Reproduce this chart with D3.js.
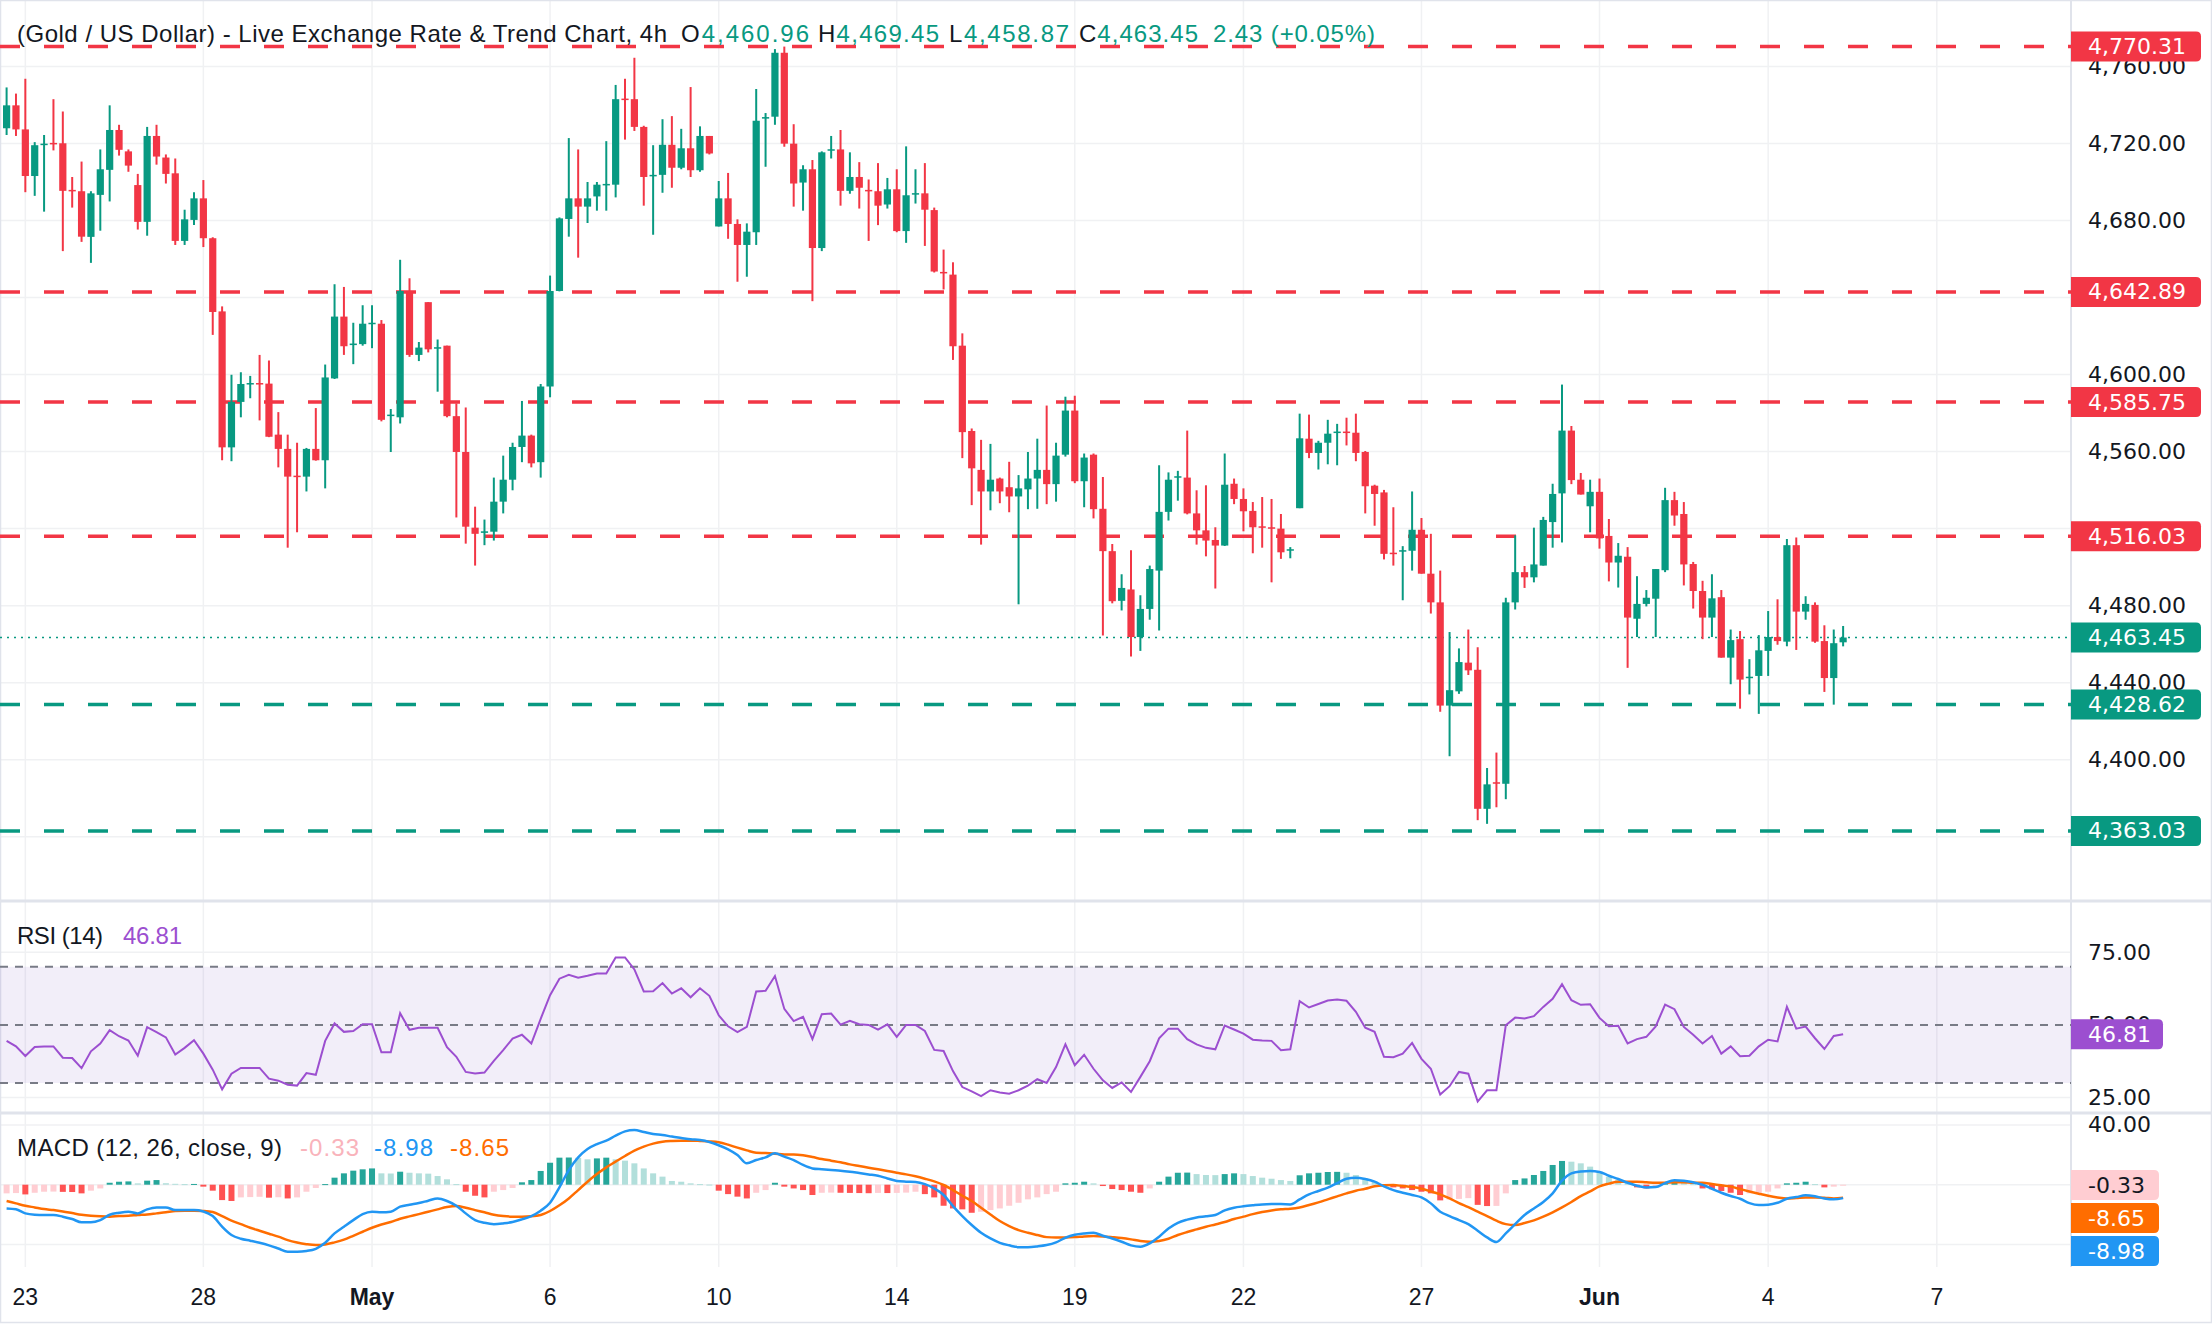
<!DOCTYPE html>
<html>
<head>
<meta charset="utf-8">
<script src="https://cdn.jsdelivr.net/npm/d3@7"></script>
<style>
  body { margin: 0; background: #fff; }
  svg { display: block; }
</style>
</head>
<body>
<div id="chart"></div>
<script>
// 4h candles, index 0 = last two bars of 22 Apr
var open = [4727.9,4739.8,4727.3,4703.1,4719.3,4720.3,4720.1,4695.9,4695.2,4671.5,4693.3,4706.3,4727.0,4715.9,4698.4,4679.3,4723.9,4712.7,4704.5,4669.4,
 4680.3,4691.5,4670.8,4632.8,4562.2,4585.8,4595.0,4595.6,4595.3,4568.8,4561.4,4547.5,4547.0,4561.4,4555.5,4598.0,4630.1,4615.3,4615.8,4626.2,
 4626.4,4578.5,4577.8,4643.4,4610.2,4637.6,4613.5,4615.0,4578.4,4559.8,4520.5,4517.8,4518.4,4534.0,4545.4,4562.4,4568.3,4554.5,4593.8,4643.4,
 4680.8,4691.5,4687.2,4692.5,4698.4,4698.6,4743.3,4743.0,4728.6,4703.0,4703.7,4719.3,4707.4,4717.5,4706.1,4723.9,4676.9,4691.5,4678.2,4667.3,
 4673.9,4732.9,4733.9,4767.1,4719.9,4699.7,4706.6,4665.7,4716.3,4716.9,4695.4,4702.6,4695.9,4695.2,4688.3,4696.2,4674.5,4693.6,4694.1,4685.4,
 4653.3,4651.9,4615.0,4570.7,4550.5,4539.3,4546.0,4541.5,4536.7,4540.4,4546.0,4550.5,4543.1,4558.4,4581.3,4544.6,4558.4,4530.3,4508.3,4482.5,
 4488.4,4463.7,4478.3,4498.2,4528.7,4546.5,4546.5,4527.9,4519.1,4514.1,4511.2,4543.3,4535.4,4529.2,4521.2,4520.7,4520.0,4508.8,4530.6,4566.7,
 4559.3,4564.6,4569.8,4570.4,4569.8,4559.8,4542.3,4538.8,4507.5,4508.3,4508.5,4519.4,4496.6,4481.7,4428.1,4435.5,4450.4,4446.7,4374.5,4388.3,
 4387.5,4481.7,4497.4,4494.7,4500.8,4523.4,4538.3,4570.9,4545.4,4531.6,4539.1,4516.2,4502.4,4505.4,4473.2,4480.9,4483.6,4498.4,4534.8,4527.6,
 4501.6,4487.6,4473.8,4484.4,4453.0,4462.6,4442.4,4443.5,4456.5,4463.7,4461.3,4511.4,4476.9,4480.4,4461.6,4442.4,4460.96];
var high = [4749.1,4745.9,4753.6,4720.7,4724.4,4743.0,4736.6,4702.6,4710.6,4695.2,4716.9,4739.8,4729.7,4716.9,4704.2,4728.6,4729.7,4714.3,4712.2,4685.6,
 4694.7,4701.0,4671.3,4635.4,4599.9,4601.2,4599.3,4610.2,4607.3,4580.5,4568.8,4564.6,4561.9,4582.6,4605.2,4646.9,4645.5,4626.9,4636.0,4636.0,
 4628.3,4582.1,4659.6,4650.0,4616.9,4637.6,4618.2,4615.0,4585.0,4582.9,4531.4,4524.7,4546.5,4557.9,4564.6,4586.3,4568.8,4595.1,4651.4,4681.6,
 4722.8,4716.9,4700.0,4700.0,4721.2,4750.4,4753.6,4764.5,4729.2,4719.1,4732.6,4734.2,4727.6,4749.3,4728.9,4723.9,4700.5,4704.7,4680.6,4678.5,
 4748.3,4735.8,4769.0,4770.31,4730.0,4708.7,4711.4,4715.9,4723.9,4727.0,4715.4,4710.3,4701.3,4709.8,4702.1,4706.6,4718.5,4706.6,4709.8,4686.7,
 4664.9,4658.3,4621.4,4572.0,4566.1,4564.0,4546.5,4554.7,4547.8,4559.8,4566.7,4583.9,4564.6,4588.5,4589.0,4559.0,4559.0,4546.8,4512.0,4496.3,
 4508.8,4485.4,4500.8,4552.9,4549.2,4550.0,4570.9,4539.9,4542.5,4520.7,4559.0,4546.0,4540.9,4533.8,4536.4,4535.4,4527.6,4510.4,4579.7,4579.2,
 4565.6,4576.5,4574.4,4577.6,4579.7,4560.3,4542.8,4540.1,4531.1,4510.9,4539.3,4525.5,4517.3,4498.2,4466.3,4457.8,4467.6,4458.4,4395.7,4403.7,
 4484.1,4516.5,4500.6,4520.5,4526.1,4543.3,4594.8,4573.3,4548.9,4545.4,4546.0,4525.0,4512.5,4510.4,4495.3,4488.1,4499.0,4541.2,4539.1,4533.8,
 4502.7,4492.9,4496.3,4488.1,4467.6,4466.8,4452.2,4464.7,4477.2,4483.3,4514.6,4515.4,4484.9,4481.7,4469.8,4467.6,4469.45];
var low = [4724.4,4723.9,4694.7,4692.8,4684.6,4716.4,4664.1,4686.7,4668.9,4658.0,4674.7,4689.9,4713.7,4705.3,4675.3,4672.1,4709.0,4699.2,4667.3,4667.3,
 4677.6,4666.2,4620.6,4555.5,4555.0,4577.8,4587.7,4576.2,4567.5,4551.8,4510.1,4518.1,4539.3,4555.3,4540.9,4597.7,4610.2,4605.4,4615.0,4613.7,
 4575.7,4559.8,4574.6,4609.2,4607.0,4611.5,4591.1,4577.8,4525.8,4512.2,4500.8,4511.4,4513.8,4527.9,4539.9,4554.5,4551.8,4546.5,4588.2,4643.2,
 4671.6,4660.7,4678.7,4685.1,4685.1,4692.0,4722.0,4726.5,4687.7,4672.6,4694.4,4697.0,4706.6,4702.6,4705.3,4714.3,4676.9,4670.5,4648.2,4650.8,
 4667.3,4707.9,4729.7,4718.3,4687.2,4685.1,4638.1,4664.1,4712.2,4687.7,4693.9,4686.2,4669.4,4677.6,4686.2,4673.9,4668.4,4688.8,4666.8,4653.0,
 4644.2,4607.6,4556.6,4532.2,4511.7,4529.5,4533.2,4528.5,4480.7,4530.1,4530.3,4532.7,4534.0,4557.4,4543.6,4531.1,4525.3,4464.5,4481.2,4477.5,
 4453.6,4456.5,4472.7,4467.1,4524.2,4534.5,4527.4,4511.7,4505.6,4488.9,4511.0,4532.7,4518.6,4507.2,4510.1,4492.1,4504.3,4504.6,4530.6,4556.6,
 4550.7,4553.4,4552.9,4563.2,4555.0,4527.9,4521.5,4504.0,4500.8,4482.8,4498.2,4496.6,4475.9,4424.9,4401.8,4434.2,4444.0,4368.6,4366.7,4375.3,
 4379.5,4478.0,4489.2,4492.1,4500.8,4510.1,4512.8,4543.1,4537.7,4518.1,4509.6,4492.6,4489.4,4447.7,4463.7,4479.6,4463.7,4497.4,4521.5,4490.5,
 4478.5,4462.6,4463.7,4453.0,4439.2,4426.5,4433.9,4423.8,4443.5,4459.7,4458.9,4457.0,4472.7,4460.7,4435.2,4428.6,4458.87];
var close = [4739.8,4727.3,4703.1,4719.1,4719.9,4719.8,4695.4,4695.3,4671.6,4694.1,4706.6,4727.0,4716.7,4708.5,4679.3,4723.9,4713.2,4704.2,4669.4,4680.6,
 4691.5,4670.8,4632.5,4562.2,4585.8,4595.1,4595.6,4595.2,4567.7,4561.4,4547.0,4547.0,4561.4,4555.5,4598.5,4630.1,4614.7,4616.1,4626.4,4626.9,
 4576.5,4579.2,4643.4,4610.2,4614.0,4613.1,4614.2,4578.4,4559.8,4521.0,4517.3,4518.6,4534.0,4545.4,4562.4,4568.3,4553.9,4593.8,4643.4,4681.1,
 4691.5,4687.2,4691.5,4698.6,4699.0,4743.0,4742.7,4728.6,4702.6,4703.7,4719.3,4707.4,4717.5,4706.1,4723.9,4714.8,4691.5,4678.2,4667.3,4674.2,
 4731.8,4733.7,4767.1,4719.9,4699.2,4706.6,4665.7,4715.4,4717.0,4695.4,4702.6,4697.0,4695.2,4687.7,4696.2,4674.5,4693.1,4694.2,4685.6,4653.5,
 4652.7,4614.7,4570.1,4551.3,4539.3,4545.4,4539.3,4536.7,4540.9,4546.0,4550.5,4543.1,4557.9,4581.3,4544.6,4556.9,4530.1,4508.3,4482.3,4489.2,
 4463.7,4478.3,4499.0,4528.7,4545.4,4547.2,4527.9,4519.1,4513.8,4511.2,4542.8,4535.4,4529.0,4520.7,4520.5,4520.0,4507.7,4509.3,4566.9,4559.3,
 4564.6,4569.3,4570.4,4569.8,4559.3,4542.0,4538.0,4506.9,4506.8,4508.8,4519.4,4496.6,4481.7,4428.1,4436.1,4450.7,4446.4,4374.5,4387.2,4387.7,
 4481.7,4497.4,4494.7,4501.4,4524.5,4538.0,4570.9,4545.2,4537.7,4539.1,4514.9,4502.4,4505.9,4473.8,4480.9,4484.1,4499.0,4534.8,4526.8,4501.4,
 4487.6,4473.8,4483.8,4453.0,4462.1,4441.6,4443.1,4456.8,4463.7,4461.6,4511.4,4476.9,4480.9,4461.3,4442.4,4460.5,4463.45];

var rsi = [44.5,42.6,39.3,42.4,42.6,42.6,38.7,38.6,35.1,40.9,43.6,48.2,46.1,44.6,39.4,49.2,47.5,45.7,39.8,42.1,
 44.7,40.1,34.6,27.8,33.2,35.2,35.2,35.2,31.5,30.8,29.4,29.1,33.4,32.8,44.5,50.5,47.6,47.9,50.2,50.2,
 40.6,40.6,54.0,48.3,49.0,49.0,49.0,42.3,39.0,33.8,33.3,33.6,37.6,41.3,45.3,46.6,43.6,52.1,60.2,65.9,
 67.2,66.2,66.9,67.7,67.7,73.2,73.2,69.1,61.5,61.6,64.4,60.8,62.6,59.5,62.6,60.0,53.3,49.5,47.5,49.3,
 61.5,61.7,66.8,55.5,51.3,52.8,45.1,53.7,53.9,50.1,51.4,50.2,50.0,48.4,50.2,45.9,50.0,50.0,47.9,41.4,
 41.0,34.1,28.6,27.1,25.5,27.5,26.7,26.3,27.5,29.1,31.3,30.0,35.5,43.3,36.1,39.7,34.9,30.9,28.3,30.2,
 26.9,32.1,37.5,45.4,48.7,48.7,45.1,43.3,42.1,41.6,49.8,48.4,47.0,44.9,44.6,44.5,41.3,41.6,58.2,56.0,
 57.2,58.4,58.7,58.3,54.5,49.0,47.6,39.0,38.9,40.1,43.8,38.3,34.9,26.0,28.9,33.8,33.2,23.6,27.5,27.5,
 49.9,52.5,52.2,53.0,56.2,59.0,64.0,58.5,56.9,57.1,52.4,49.5,49.7,43.6,45.1,45.9,49.5,57.0,55.4,49.3,
 46.6,43.6,46.2,40.1,42.6,39.2,39.4,42.6,44.9,44.3,56.2,48.7,49.4,45.4,41.7,46.2,46.81];

var macd = [-15.9,-16.5,-19.2,-20.1,-20.3,-20.3,-21.4,-23.0,-25.2,-25.2,-23.7,-20.1,-18.8,-18.1,-19.2,-16.5,-15.2,-15.2,-17.0,-17.0,
 -17.0,-17.9,-21.0,-28.1,-33.7,-36.2,-37.5,-38.9,-40.6,-42.7,-44.9,-44.9,-44.4,-42.9,-38.9,-32.6,-28.1,-23.7,-19.7,-18.1,
 -18.5,-18.1,-14.7,-13.4,-12.3,-10.7,-9.2,-10.9,-14.1,-19.2,-23.7,-25.5,-26.4,-25.9,-25.0,-23.2,-21.0,-17.4,-12.1,-1.8,
 9.8,18.3,23.9,27.2,29.5,32.8,35.7,36.6,35.3,33.9,33.3,32.2,31.3,30.4,29.9,28.6,26.4,23.7,19.9,14.3,
 16.5,18.3,21.0,18.8,16.5,13.2,10.9,10.3,9.8,9.4,8.7,7.8,6.9,6.0,4.2,2.5,2.0,1.8,0.4,-2.5,
 -6.9,-14.3,-21.0,-27.0,-32.2,-36.0,-38.9,-40.6,-41.8,-41.8,-41.3,-40.4,-38.6,-35.5,-33.5,-32.6,-32.2,-34.2,-36.0,-38.2,
 -40.6,-41.5,-39.3,-34.8,-29.3,-25.5,-23.4,-21.9,-21.2,-20.3,-17.2,-15.4,-14.5,-13.8,-13.2,-13.0,-13.0,-13.2,-9.8,-6.5,
 -4.2,-2.0,1.1,4.0,4.7,3.8,2.0,-1.1,-3.6,-5.4,-6.9,-8.5,-12.5,-18.1,-21.0,-23.7,-26.4,-30.8,-35.3,-38.4,
 -32.6,-26.4,-20.3,-15.9,-11.6,-5.8,2.7,7.6,8.9,9.2,8.5,6.0,3.8,1.3,-0.7,-1.8,-1.6,1.1,2.9,2.7,
 1.6,0.0,-2.7,-5.4,-7.6,-9.4,-12.3,-13.6,-13.4,-12.1,-9.4,-8.3,-7.1,-7.8,-9.2,-9.8,-8.98];
var signal = [-10.9,-12.5,-14.1,-15.2,-16.3,-17.0,-17.9,-19.0,-20.1,-20.8,-21.2,-21.4,-21.0,-20.8,-20.3,-19.9,-19.2,-18.5,-17.6,-17.4,
 -17.4,-17.6,-18.3,-21.0,-24.1,-26.4,-28.8,-30.8,-32.8,-34.8,-37.1,-38.7,-39.8,-40.4,-40.0,-38.6,-36.8,-34.2,-31.5,-28.8,
 -26.6,-25.0,-22.8,-21.2,-19.7,-18.1,-16.5,-15.0,-14.3,-15.4,-17.0,-18.5,-20.1,-21.0,-21.4,-21.4,-21.2,-20.3,-17.6,-13.8,
 -9.2,-3.6,2.0,7.1,11.6,15.4,19.2,22.8,25.5,27.5,28.8,29.3,29.5,29.5,29.3,29.0,28.4,26.8,24.8,23.0,
 21.4,21.2,20.8,20.3,20.3,19.7,18.5,17.2,16.1,15.0,13.6,12.5,11.4,10.3,9.2,8.0,6.9,5.6,4.0,2.2,
 -0.2,-3.6,-7.4,-10.9,-15.4,-19.9,-24.3,-27.7,-30.4,-32.2,-33.7,-35.1,-35.3,-35.3,-35.1,-34.6,-34.4,-34.6,-35.1,-35.7,
 -36.6,-37.7,-38.2,-37.7,-36.2,-33.7,-31.7,-29.9,-28.1,-26.6,-25.0,-23.0,-21.4,-19.7,-18.3,-17.2,-16.5,-16.1,-15.2,-13.6,
 -11.8,-9.8,-7.8,-5.8,-4.0,-2.7,-1.1,-0.4,-0.2,-0.9,-1.6,-2.7,-4.5,-6.5,-9.2,-12.3,-15.0,-18.1,-21.0,-24.1,
 -26.4,-27.0,-25.7,-23.9,-21.4,-18.5,-15.2,-11.6,-7.6,-4.5,-1.1,0.7,2.0,2.0,2.0,1.6,1.3,1.3,1.6,1.6,
 1.3,1.3,0.4,-0.4,-1.3,-2.9,-4.5,-6.0,-7.4,-8.5,-9.2,-8.9,-8.5,-8.5,-8.7,-9.2,-8.65];
var hist = [-5.8,-5.6,-6.5,-5.4,-4.7,-4.6,-4.8,-4.9,-5.8,-4.0,-2.5,1.3,2.0,2.2,0.9,2.7,3.1,1.0,0.6,0.4,
 0.5,-1.3,-4.0,-10.3,-10.9,-8.5,-8.3,-8.1,-8.7,-8.4,-9.2,-8.5,-4.7,-2.2,0.4,4.7,7.6,9.4,10.3,10.9,
 7.6,7.5,8.7,8.0,7.6,7.4,5.8,3.6,0.4,-4.7,-7.4,-8.5,-4.7,-3.6,-2.2,1.6,3.1,9.2,14.7,18.1,
 18.2,18.0,17.0,17.6,18.1,17.0,16.1,14.3,10.9,7.6,5.4,2.5,2.0,0.9,0.4,0.1,-4.0,-6.3,-8.0,-9.2,
 -5.4,-3.6,1.3,-1.3,-2.5,-3.6,-6.9,-5.4,-5.3,-5.4,-5.5,-5.6,-5.7,-5.5,-5.6,-5.5,-5.3,-4.7,-6.3,-8.5,
 -14.1,-15.9,-16.5,-18.8,-18.1,-17.0,-15.9,-14.1,-12.1,-9.8,-8.5,-6.3,-4.7,0.9,1.3,2.0,0.9,-0.9,-2.9,-3.6,
 -4.7,-5.4,-2.5,2.0,5.4,8.0,8.1,7.1,6.5,6.4,7.1,7.6,7.1,5.8,4.7,4.0,3.1,2.5,6.3,7.6,
 8.0,8.5,8.6,8.0,6.5,4.2,2.0,-0.9,-1.8,-2.5,-3.6,-4.7,-5.8,-10.5,-10.0,-9.5,-9.0,-13.5,-14.3,-14.2,
 -5.8,3.1,4.2,6.5,9.2,13.2,15.9,15.4,14.3,12.1,8.7,5.4,3.1,1.3,-1.8,-2.5,-0.9,1.3,2.0,1.3,
 0.4,-2.5,-3.1,-4.2,-5.4,-6.9,-5.8,-5.4,-4.7,-2.5,0.9,1.3,2.0,0.4,-1.8,-1.3,-0.33];

// horizontal levels
var resistances = [4770.31, 4642.89, 4585.75, 4516.03];
var supports = [4428.62, 4363.03];
var lastClose = 4463.45;

// time axis: label and bar index of first bar of that day
var dayLabels = ["23", "28", "May", "6", "10", "14", "19", "22", "27", "Jun", "4", "7"];
var dayIndex = [2, 21, 39, 58, 76, 95, 114, 132, 151, 170, 188, 206];

var priceTicks = d3.range(4360, 4761, 40);
var rsiTicks = [75, 50, 25];
var rsiLevels = [70, 50, 30];
var macdTicks = [40, -40];

var W = 2212, H = 1344;
var AX = 2071;           // price axis left edge
var LX = 2088;           // axis text x
var UP = "#089981", DOWN = "#f23645";
var GRID = "#f0f1f3", SEP = "#e0e3eb", TXT = "#131722";
var AXFONT = "'DejaVu Sans', sans-serif";
var UIFONT = "'Liberation Sans', Arial, sans-serif";
var fmt = d3.format(",.2f");
var n = close.length;

var x = d3.scaleLinear().domain([0, n - 1]).range([6.6, 6.6 + 9.37 * (n - 1)]);
var yP = d3.scaleLinear().domain([4794.5, 4327.15]).range([0, 900]);
var yR = d3.scaleLinear().domain([92.3, 19.67]).range([902, 1113]);
var yM = d3.scaleLinear().domain([48.0, -55.1]).range([1113, 1267]);

var svg = d3.select("#chart").append("svg").attr("width", W).attr("height", H);
svg.append("rect").attr("width", W).attr("height", H).attr("fill", "#fff");

// grid
var grid = svg.append("g").attr("stroke", GRID).attr("stroke-width", 1.5);
dayIndex.forEach(function(d){
  grid.append("line").attr("x1", x(d)).attr("x2", x(d)).attr("y1", 0).attr("y2", 1267);
});
priceTicks.forEach(function(p){
  grid.append("line").attr("x1", 0).attr("x2", AX).attr("y1", yP(p)).attr("y2", yP(p));
});
[75, 25].forEach(function(r){
  grid.append("line").attr("x1", 0).attr("x2", AX).attr("y1", yR(r)).attr("y2", yR(r));
});
[40, 0, -40].forEach(function(v){
  grid.append("line").attr("x1", 0).attr("x2", AX).attr("y1", yM(v)).attr("y2", yM(v));
});

// pane separators and borders
svg.append("line").attr("x1", 0).attr("x2", W).attr("y1", 901).attr("y2", 901).attr("stroke", SEP).attr("stroke-width", 3);
svg.append("line").attr("x1", 0).attr("x2", W).attr("y1", 1113).attr("y2", 1113).attr("stroke", SEP).attr("stroke-width", 3);
svg.append("line").attr("x1", AX).attr("x2", AX).attr("y1", 0).attr("y2", 1267).attr("stroke", SEP).attr("stroke-width", 2);
svg.append("rect").attr("x", 0.5).attr("y", 0.5).attr("width", W - 1).attr("height", 1322)
  .attr("fill", "none").attr("stroke", SEP).attr("stroke-width", 1.5);

// level lines
var lv = svg.append("g").attr("fill", "none");
resistances.forEach(function(p){
  lv.append("line").attr("x1", 0).attr("x2", AX).attr("y1", yP(p)).attr("y2", yP(p))
    .attr("stroke", DOWN).attr("stroke-width", 3.5).attr("stroke-dasharray", "20 24");
});
supports.forEach(function(p){
  lv.append("line").attr("x1", 0).attr("x2", AX).attr("y1", yP(p)).attr("y2", yP(p))
    .attr("stroke", UP).attr("stroke-width", 3.5).attr("stroke-dasharray", "20 24");
});
lv.append("line").attr("x1", 0).attr("x2", AX).attr("y1", yP(lastClose)).attr("y2", yP(lastClose))
  .attr("stroke", UP).attr("stroke-width", 1.5).attr("stroke-dasharray", "2 5");

// candles
var idx = d3.range(n);
var cg = svg.append("g");
cg.selectAll(".wick").data(idx).enter().append("line")
  .attr("x1", function(i){ return x(i); }).attr("x2", function(i){ return x(i); })
  .attr("y1", function(i){ return yP(high[i]); }).attr("y2", function(i){ return yP(low[i]); })
  .attr("stroke", function(i){ return close[i] >= open[i] ? UP : DOWN; })
  .attr("stroke-width", 2);
cg.selectAll(".body").data(idx).enter().append("rect")
  .attr("x", function(i){ return x(i) - 3.6; })
  .attr("width", 7.2)
  .attr("y", function(i){ return yP(Math.max(open[i], close[i])); })
  .attr("height", function(i){ return Math.max(1.5, Math.abs(yP(open[i]) - yP(close[i]))); })
  .attr("fill", function(i){ return close[i] >= open[i] ? UP : DOWN; });

// RSI pane
svg.append("rect").attr("x", 0).attr("width", AX).attr("y", yR(70)).attr("height", yR(30) - yR(70))
  .attr("fill", "#7e57c2").attr("fill-opacity", 0.1);
rsiLevels.forEach(function(r){
  svg.append("line").attr("x1", 0).attr("x2", AX).attr("y1", yR(r)).attr("y2", yR(r))
    .attr("stroke", "#787b86").attr("stroke-width", 2).attr("stroke-dasharray", "8 7");
});
svg.append("path").datum(idx)
  .attr("d", d3.line().x(function(i){ return x(i); }).y(function(i){ return yR(rsi[i]); }))
  .attr("fill", "none").attr("stroke", "#9c4fd0").attr("stroke-width", 2);

// MACD pane
svg.selectAll(".hb").data(idx).enter().append("rect")
  .attr("x", function(i){ return x(i) - 3; })
  .attr("width", 6)
  .attr("y", function(i){ return Math.min(yM(0), yM(hist[i])); })
  .attr("height", function(i){ return Math.max(1, Math.abs(yM(hist[i]) - yM(0))); })
  .attr("fill", function(i){
    var prev = i > 0 ? hist[i - 1] : hist[i];
    if (hist[i] >= 0) return hist[i] >= prev ? "#26a69a" : "#b2dfdb";
    return hist[i] < prev ? "#ff5252" : "#ffcdd2";
  });
var ml = d3.line().curve(d3.curveMonotoneX).x(function(i){ return x(i); });
svg.append("path").datum(idx).attr("d", ml.y(function(i){ return yM(signal[i]); }))
  .attr("fill", "none").attr("stroke", "#ff6d00").attr("stroke-width", 2.5);
svg.append("path").datum(idx).attr("d", ml.y(function(i){ return yM(macd[i]); }))
  .attr("fill", "none").attr("stroke", "#2196f3").attr("stroke-width", 2.5);

// axis labels (right); labels fully covered by a level tag are not drawn
var tagPrices = resistances.concat(supports);
var axg = svg.append("g").attr("font-family", AXFONT).attr("font-size", 22).attr("fill", TXT)
  .attr("dominant-baseline", "central");
priceTicks.filter(function(p){
  return tagPrices.every(function(t){ return Math.abs(yP(t) - yP(p)) > 9; });
}).forEach(function(p){ axg.append("text").attr("x", LX).attr("y", yP(p)).text(fmt(p)); });
rsiTicks.forEach(function(r){ axg.append("text").attr("x", LX).attr("y", yR(r)).text(r.toFixed(2)); });
macdTicks.forEach(function(v){ axg.append("text").attr("x", LX).attr("y", yM(v)).text(v.toFixed(2)); });

// value tags
function tag(cy, label, bg, fg, w) {
  var h = 30, r = 5, x0 = AX, y0 = cy - h / 2;
  svg.append("path")
    .attr("d", "M" + x0 + "," + y0 + "H" + (x0 + w - r) + "Q" + (x0 + w) + "," + y0 + " " + (x0 + w) + "," + (y0 + r) +
      "V" + (y0 + h - r) + "Q" + (x0 + w) + "," + (y0 + h) + " " + (x0 + w - r) + "," + (y0 + h) + "H" + x0 + "Z")
    .attr("fill", bg);
  svg.append("text").attr("x", LX).attr("y", cy).attr("dominant-baseline", "central")
    .attr("font-family", AXFONT).attr("font-size", 22).attr("fill", fg).text(label);
}
resistances.forEach(function(p){ tag(yP(p), fmt(p), DOWN, "#fff", 130); });
supports.forEach(function(p){ tag(yP(p), fmt(p), UP, "#fff", 130); });
tag(yP(lastClose), fmt(lastClose), UP, "#fff", 130);
tag(yR(rsi[n - 1]), rsi[n - 1].toFixed(2), "#9c4fd0", "#fff", 92);
// MACD tags are stacked to avoid overlap (as the reference does)
tag(1185, hist[n - 1].toFixed(2), "#ffcdd2", TXT, 88);
tag(1218, signal[n - 1].toFixed(2), "#ff6d00", "#fff", 88);
tag(1251, macd[n - 1].toFixed(2), "#2196f3", "#fff", 88);

// time axis
var tg = svg.append("g").attr("font-family", UIFONT).attr("font-size", 23).attr("fill", TXT)
  .attr("text-anchor", "middle").attr("dominant-baseline", "central");
dayLabels.forEach(function(l, k){
  tg.append("text").attr("x", x(dayIndex[k])).attr("y", 1297)
    .attr("font-weight", (l === "May" || l === "Jun") ? "bold" : "normal").text(l);
});

// header (widths fitted to the reference)
var hd = svg.append("g").attr("font-family", UIFONT).attr("font-size", 24).attr("dominant-baseline", "central");
hd.append("text").attr("x", 17).attr("y", 33).attr("fill", TXT)
  .attr("textLength", 650).attr("lengthAdjust", "spacing")
  .text("(Gold / US Dollar) - Live Exchange Rate & Trend Chart, 4h");
var ohlc = [["O", open[n - 1], 681, 128], ["H", high[n - 1], 818, 121], ["L", low[n - 1], 949, 120], ["C", close[n - 1], 1079, 119]];
ohlc.forEach(function(o){
  var t = hd.append("text").attr("x", o[2]).attr("y", 33)
    .attr("textLength", o[3]).attr("lengthAdjust", "spacing");
  t.append("tspan").attr("fill", TXT).text(o[0]);
  t.append("tspan").attr("fill", UP).text(fmt(o[1]));
});
hd.append("text").attr("x", 1213).attr("y", 33).attr("fill", UP)
  .attr("textLength", 162).attr("lengthAdjust", "spacing").text("2.43 (+0.05%)");

// pane legends
var lg = svg.append("g").attr("font-family", UIFONT).attr("font-size", 24).attr("dominant-baseline", "central");
lg.append("text").attr("x", 17).attr("y", 935).attr("fill", TXT).attr("textLength", 86).attr("lengthAdjust", "spacing").text("RSI (14)");
lg.append("text").attr("x", 123).attr("y", 935).attr("fill", "#9c4fd0").attr("textLength", 59).attr("lengthAdjust", "spacing").text(rsi[n - 1].toFixed(2));
lg.append("text").attr("x", 17).attr("y", 1147).attr("fill", TXT).attr("textLength", 265).attr("lengthAdjust", "spacing").text("MACD (12, 26, close, 9)");
lg.append("text").attr("x", 300).attr("y", 1147).attr("fill", "#f9b3bb").attr("textLength", 59).attr("lengthAdjust", "spacing").text(hist[n - 1].toFixed(2));
lg.append("text").attr("x", 374).attr("y", 1147).attr("fill", "#2196f3").attr("textLength", 59).attr("lengthAdjust", "spacing").text(macd[n - 1].toFixed(2));
lg.append("text").attr("x", 450).attr("y", 1147).attr("fill", "#ff6d00").attr("textLength", 59).attr("lengthAdjust", "spacing").text(signal[n - 1].toFixed(2));
</script>
</body>
</html>
